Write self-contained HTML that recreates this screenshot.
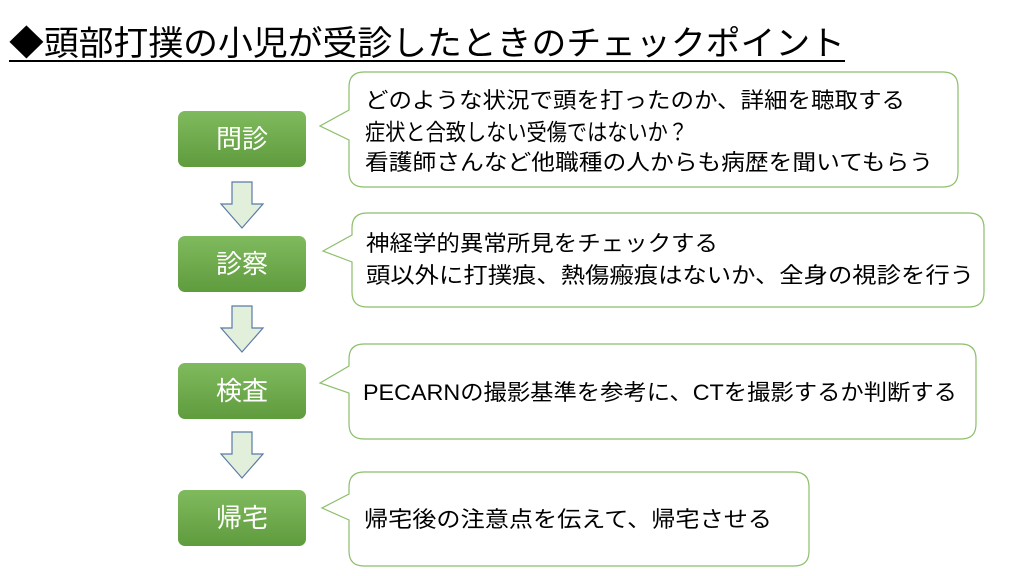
<!DOCTYPE html>
<html><head><meta charset="utf-8"><style>
body{margin:0;background:#fff;}
svg{display:block;font-family:"Liberation Sans","Noto Sans CJK JP",sans-serif;}
</style></head><body>
<svg width="1024" height="576" viewBox="0 0 1024 576">
<defs>
<linearGradient id="g" x1="0" y1="0" x2="0" y2="1">
<stop offset="0" stop-color="#80ba5e"/><stop offset="1" stop-color="#5f9c3e"/>
</linearGradient>
</defs>
<text x="9" y="55" font-size="34" textLength="836" lengthAdjust="spacingAndGlyphs" fill="#000">◆頭部打撲の小児が受診したときのチェックポイント</text>
<rect x="9" y="60" width="836" height="2" fill="#000"/>

<g fill="url(#g)">
<rect x="178" y="111" width="128" height="56" rx="7"/>
<rect x="178" y="236" width="128" height="56" rx="7"/>
<rect x="178" y="363" width="128" height="56" rx="7"/>
<rect x="178" y="490" width="128" height="56" rx="7"/>
</g>
<g fill="#fff" font-size="26" text-anchor="middle">
<text x="242" y="148">問診</text>
<text x="242" y="273">診察</text>
<text x="242" y="400">検査</text>
<text x="242" y="527">帰宅</text>
</g>

<g fill="#e2efda" stroke="#5a7aa8" stroke-width="1.2">
<path d="M232,182 H252 V204 H263 L242,228 L221,204 H232 Z"/>
<path d="M232,306 H252 V328 H263 L242,352 L221,328 H232 Z"/>
<path d="M232,432 H252 V454 H263 L242,478 L221,454 H232 Z"/>
</g>

<g fill="#fff" stroke="#8cbf6a" stroke-width="1.2">
<path d="M364,72 H943 Q958,72 958,87 V172 Q958,187 943,187 H364 Q349,187 349,172 V140 L320,126 L349,110 V87 Q349,72 364,72 Z"/>
<path d="M367,213 H969 Q984,213 984,228 V292 Q984,307 969,307 H367 Q352,307 352,292 V262 L323,251 L352,235 V228 Q352,213 367,213 Z"/>
<path d="M364,344 H961 Q976,344 976,359 V424 Q976,439 961,439 H364 Q349,439 349,424 V393 L320,383 L349,366 V359 Q349,344 364,344 Z"/>
<path d="M364,472 H794 Q809,472 809,487 V551 Q809,566 794,566 H364 Q349,566 349,551 V520 L322,508 L349,494 V487 Q349,472 364,472 Z"/>
</g>

<g fill="#000" font-size="22">
<text x="365" y="108" textLength="540" lengthAdjust="spacingAndGlyphs">どのような状況で頭を打ったのか、詳細を聴取する</text>
<text x="365" y="140" font-size="23" textLength="323" lengthAdjust="spacingAndGlyphs">症状と合致しない受傷ではないか？</text>
<text x="365" y="170" textLength="568" lengthAdjust="spacingAndGlyphs">看護師さんなど他職種の人からも病歴を聞いてもらう</text>
<text x="366" y="251" textLength="352" lengthAdjust="spacingAndGlyphs">神経学的異常所見をチェックする</text>
<text x="366" y="283" textLength="608" lengthAdjust="spacingAndGlyphs">頭以外に打撲痕、熱傷瘢痕はないか、全身の視診を行う</text>
<text x="363" y="400" textLength="594" lengthAdjust="spacingAndGlyphs">PECARNの撮影基準を参考に、CTを撮影するか判断する</text>
<text x="364" y="527" textLength="408" lengthAdjust="spacingAndGlyphs">帰宅後の注意点を伝えて、帰宅させる</text>
</g>
</svg>
</body></html>
